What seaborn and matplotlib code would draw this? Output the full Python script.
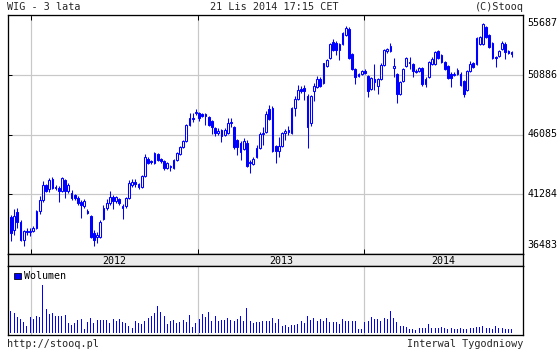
import matplotlib
matplotlib.use("Agg")
import matplotlib.pyplot as plt
import matplotlib.dates as mdates
from matplotlib.patches import Rectangle
import numpy as np
import pandas as pd
import seaborn as sns

# ---------------- data (weekly WIG candles) ----------------
first_week = "2011-11-18"

open_ = [39470, 38430, 39870, 39070, 37630, 38350, 38270, 38350, 38590, 39950,
         40830, 42030, 41710, 42510, 41790, 41790, 41550, 42430, 41550, 41390,
         41230, 40990, 40670, 40350, 39950, 39550, 38190, 37870, 37870, 39310,
         40190, 40590, 41070, 40750, 40910, 40190, 40350, 40990, 42030, 42270,
         42110, 41870, 42750, 44110, 43950, 43790, 44510, 44110, 43950, 43390,
         43470, 43390, 44030, 44510, 45070, 45550, 46830, 47390, 47790, 47790,
         47710, 47550, 47470, 47150, 46590, 46190, 46430, 46030, 46190, 46990,
         46670, 45630, 45390, 44910, 45390, 43790, 43710, 44270, 44990, 46110,
         46270, 48110, 48190, 45150, 44750, 45150, 46190, 46430, 46190, 48190,
         48910, 49710, 49790, 49150, 46990, 49550, 49870, 50510, 50190, 51550,
         52270, 53550, 53470, 52910, 53390, 54110, 54590, 52590, 51310, 50750,
         50910, 51150, 50750, 49710, 50510, 49950, 50510, 51630, 52830, 52830,
         51390, 50910, 49310, 50350, 51550, 51950, 51710, 51070, 51150, 51390,
         50110, 50670, 51710, 51710, 52830, 52510, 51950, 51550, 50910, 50830,
         50910, 50910, 50350, 49630, 51150, 51870, 51710, 53390, 53390, 54750,
         54110, 53470, 52350, 52430, 52990, 53390, 52830, 52590]

high = [39630, 40110, 40190, 39230, 38430, 38590, 38590, 38750, 40030, 41150,
        42350, 42110, 42590, 42670, 42030, 41950, 42670, 42510, 42190, 41630,
        41310, 41150, 40830, 40910, 40110, 39630, 38430, 38270, 39230, 40430,
        40910, 41550, 41230, 41150, 40990, 40510, 41070, 42430, 42510, 42510,
        42190, 42830, 44510, 44270, 44030, 44670, 44590, 44190, 44030, 43870,
        43630, 44110, 44670, 45150, 45630, 46910, 47790, 47790, 48110, 47870,
        47790, 47790, 47550, 47230, 46670, 46590, 46510, 46590, 47390, 47390,
        46750, 45710, 45550, 45790, 45630, 44030, 44270, 45230, 46270, 46670,
        47950, 48430, 48350, 45230, 45870, 46270, 46510, 46750, 48270, 49150,
        50030, 49950, 50030, 49310, 49230, 50190, 50750, 50670, 51870, 52190,
        53470, 53790, 53630, 53470, 54350, 54830, 54750, 52670, 51390, 50990,
        51230, 51310, 50830, 50670, 51710, 50590, 51790, 52990, 53070, 53470,
        52270, 50990, 50350, 51390, 52350, 52350, 51790, 51310, 51470, 51470,
        50670, 52030, 52350, 52830, 52910, 52590, 52030, 51630, 51070, 51070,
        51390, 51070, 50430, 51230, 52030, 51950, 53950, 54030, 55070, 54830,
        54190, 53550, 52430, 52910, 53630, 53550, 52910, 52830]

low = [37550, 38030, 38590, 37550, 37150, 38030, 37950, 38270, 38510, 39710,
       40670, 41470, 41470, 41710, 41630, 40670, 41470, 40990, 41390, 40830,
       40830, 40430, 39390, 40190, 39710, 37790, 37150, 37390, 37790, 39230,
       40030, 40430, 40110, 40590, 40430, 39310, 40190, 40910, 41870, 41870,
       41710, 41790, 42670, 43710, 43710, 43710, 43950, 43790, 43230, 43310,
       43150, 43310, 43950, 44430, 44990, 45470, 46750, 47070, 47630, 47150,
       47470, 46830, 46750, 46110, 45950, 46030, 45470, 45950, 46110, 46670,
       44910, 44430, 44030, 44830, 43470, 42990, 43630, 44190, 44910, 45230,
       46190, 47230, 44670, 43790, 44270, 45070, 45630, 46030, 46110, 47550,
       48830, 49390, 48830, 44990, 46750, 48750, 49790, 49870, 50110, 51470,
       52190, 52830, 52510, 52110, 53310, 54030, 52190, 51230, 50110, 50670,
       50830, 50910, 49070, 49630, 49630, 49310, 50430, 51550, 52670, 52750,
       50670, 48590, 49230, 50270, 51470, 51310, 50670, 50990, 51070, 49950,
       49870, 50590, 51630, 51630, 52190, 51870, 51230, 50510, 49870, 50750,
       50830, 49950, 49070, 49550, 51070, 51390, 51630, 53310, 53310, 53870,
       53070, 52190, 51470, 52350, 52910, 52190, 52590, 52350]

close = [38190, 39550, 39070, 37630, 38350, 38270, 38350, 38590, 39950, 40830,
         42030, 41550, 42430, 41790, 41870, 41550, 42590, 41550, 42030, 40990,
         40990, 40590, 40430, 40750, 39790, 37870, 37630, 38030, 39070, 40190,
         40590, 41070, 40750, 41070, 40590, 40350, 40990, 42190, 42270, 42110,
         41870, 42750, 44270, 43790, 43870, 44590, 44030, 43950, 43390, 43790,
         43550, 44030, 44590, 45070, 45550, 46830, 47390, 47310, 47870, 47390,
         47550, 47710, 46830, 46670, 46190, 46350, 45950, 46430, 46990, 47070,
         45070, 45070, 44670, 45550, 43550, 43870, 44110, 44990, 46110, 46190,
         47710, 47310, 44750, 44750, 45150, 46190, 46350, 46270, 48190, 48910,
         49630, 49550, 49550, 46670, 49150, 49950, 50510, 49950, 51790, 52110,
         53390, 52910, 52910, 53390, 54270, 54670, 52270, 51310, 50670, 50910,
         51150, 50990, 49550, 50590, 50270, 50510, 51630, 52910, 52990, 53230,
         51550, 49310, 50270, 51310, 52270, 51790, 51150, 51150, 51390, 50110,
         50510, 51950, 52190, 52750, 52270, 51950, 51310, 50590, 50590, 50910,
         51230, 50030, 49310, 51150, 51710, 51470, 53870, 53950, 54990, 53950,
         53150, 52270, 52270, 52830, 53470, 52750, 52670, 52750]

volume = [22.3, 20, 16.7, 14.3, 11.7, 7.3, 16.7, 14.3, 17.3, 16.7,
          48.7, 24.3, 19, 20, 17.7, 17.7, 17.7, 18.3, 10.7, 8.3,
          10.7, 13.3, 14.3, 4.3, 11.7, 15, 10.7, 13.3, 13.3, 13.3,
          13.3, 10, 14.3, 12.7, 14.3, 11.7, 10.7, 7.3, 5, 12.3,
          10, 9, 12.7, 15.7, 17.7, 20, 27.3, 21, 17.7, 9.3,
          12.3, 13.3, 10.7, 11.7, 13.3, 11.7, 18.3, 6.7, 10, 14.3,
          19, 16.7, 21.7, 12.3, 17.7, 12.7, 13.3, 13.3, 15.7, 13.3,
          12.7, 14.3, 17.3, 12.7, 25.7, 12.7, 10, 11.7, 11.7, 12.3,
          12.3, 12.3, 15, 10.7,
          14.3, 7.3, 8.3, 6, 8.3, 8.3, 9.3, 12.3, 10.7, 17.3,
          13.3, 15.7, 12.7, 14.3, 12.7, 15.7, 11.7, 11.7, 11.7, 9.3,
          14.3, 12.3, 12.3, 12.3, 12.7, 4, 4.3, 11.7, 12.7, 16.7,
          14.3, 14, 12.3, 15.7, 14.3, 22.7, 15.7, 11.7, 7.3, 7.3,
          6, 4, 4.3, 3.3, 5.7, 5.7, 5.7, 9.3, 5.7, 5,
          5, 6, 5, 4.3, 5.7, 4, 4.3, 5, 4.3, 4.3,
          5, 5.7, 6, 6.7, 7.7, 5, 5, 4.3, 7.3, 5,
          5, 4.3, 4.3, 4.3]

price_ticks = [36483, 41284, 46085, 50886, 55687]
year_starts = ["2012-01-01", "2013-01-01", "2014-01-01"]
year_labels = ["2012", "2013", "2014"]
x_range = ["2011-11-11 12:00", "2014-12-16 00:00"]

title_left = "WIG - 3 lata"
title_mid = "21 Lis 2014 17:15 CET"
title_right = "(C)Stooq"
footer_left = "http://stooq.pl"
footer_right = "Interwal Tygodniowy"
legend_label = "Wolumen"

# ---------------- styling ----------------
BLUE = "#0000FF"
GRID = "#C8C8C8"
BAND = "#EBEBEB"
PX = 0.72  # one pixel in points at 100 dpi

sns.set_style("white")
plt.rcParams["font.family"] = ["DejaVu Sans Mono", "DejaVu Sans"]

W, H = 560, 350
fig = plt.figure(figsize=(W / 100, H / 100), dpi=100)
fig.patch.set_facecolor("white")


def rect(l, t, r, b):
    return [l / W, 1 - b / H, (r - l) / W, (b - t) / H]


ax = fig.add_axes(rect(8, 15, 523, 254))
axb = fig.add_axes(rect(8, 254, 523, 266))
axv = fig.add_axes(rect(8, 266, 523, 335))

dates = pd.date_range(first_week, periods=len(close), freq="7D")
xnum = mdates.date2num(dates)
o = np.array(open_, float)
c = np.array(close, float)
hi = np.array(high, float)
lo = np.array(low, float)
up = c >= o

xl = mdates.date2num(pd.to_datetime(x_range, format="%Y-%m-%d %H:%M"))
ys = mdates.date2num(pd.to_datetime(year_starts, format="%Y-%m-%d"))
days_per_px = (xl[1] - xl[0]) / 515.0

# ---------------- price panel ----------------
ax.vlines(xnum, lo, hi, color=BLUE, lw=PX * 1.05, zorder=3)
body_w = 3.9
ax.bar(xnum[up], (c - o)[up], bottom=o[up], width=body_w, facecolor="white",
       edgecolor=BLUE, linewidth=PX * 1.05, zorder=4)
ax.bar(xnum[~up], (o - c)[~up], bottom=c[~up], width=body_w, facecolor=BLUE,
       edgecolor=BLUE, linewidth=PX * 1.05, zorder=4)

ax.set_xlim(xl[0], xl[1])
ax.set_ylim(price_ticks[0], price_ticks[-1])
ax.set_yticks(price_ticks)
ax.set_xticks(ys)
ax.grid(True, color=GRID, lw=PX * 1.2, zorder=0)
ax.set_axisbelow(True)
ax.tick_params(axis="y", left=True, right=False, labelleft=False, labelright=False,
               direction="in", length=3, width=PX, color="black")
ax.tick_params(axis="x", top=True, bottom=True, labelbottom=False, direction="in",
               length=3.5, width=PX, color="black")
for s in ax.spines.values():
    s.set_color("black")
    s.set_linewidth(PX * 1.3)

ytr = ax.get_yaxis_transform()
for i, v in enumerate(price_ticks):
    va = "center"
    dy = 0
    if i == len(price_ticks) - 1:
        va, dy = "top", -2.5
    elif i == 0:
        va, dy = "bottom", 3
    ax.annotate(str(v), xy=(1.0, v), xycoords=ytr, xytext=(3, dy),
                textcoords="offset points", ha="left", va=va, fontsize=7.2,
                color="black")

# ---------------- year band ----------------
axb.set_facecolor(BAND)
axb.set_xlim(xl[0], xl[1])
axb.set_ylim(0, 1)
axb.set_xticks([])
axb.set_yticks([])
for s in axb.spines.values():
    s.set_color("black")
    s.set_linewidth(PX * 1.3)
bounds = list(ys) + [mdates.date2num(pd.Timestamp("2015-01-01"))]
for i, lab in enumerate(year_labels):
    a = max(bounds[i], xl[0])
    b = min(bounds[i + 1], xl[1])
    axb.text((a + b) / 2, 0.45, lab, ha="center", va="center", fontsize=7.2,
             color="black")

# ---------------- volume panel ----------------
vol_df = pd.DataFrame({"date": xnum, "volume": volume})
sns.barplot(data=vol_df, x="date", y="volume", native_scale=True, color=BLUE,
            saturation=1, width=1.0 * days_per_px / 7.0, errorbar=None,
            linewidth=0, ax=axv, zorder=3)
for p in axv.patches:
    p.set_antialiased(False)
axv.set_xlim(xl[0], xl[1])
axv.set_ylim(-1.6, 67.4)
axv.set_xlabel("")
axv.set_ylabel("")
axv.set_yticks([])
axv.set_xticks(ys)
axv.tick_params(axis="x", length=0, labelbottom=False)
axv.grid(True, axis="x", color=GRID, lw=PX * 1.2, zorder=0)
axv.set_axisbelow(True)
for s in axv.spines.values():
    s.set_color("black")
    s.set_linewidth(PX * 1.3)

axv.add_patch(Rectangle((6 / 515, 0.81), 6.5 / 515, 0.095, transform=axv.transAxes,
                        facecolor=BLUE, edgecolor="black", lw=PX * 0.8, zorder=5))
axv.text(15.5 / 515, 0.86, legend_label, transform=axv.transAxes, ha="left",
         va="center", fontsize=7.2, color="black")

# ---------------- texts ----------------
fig.text(7 / W, 1 - 7 / H, title_left, ha="left", va="center", fontsize=7.3)
fig.text(274 / W, 1 - 7 / H, title_mid, ha="center", va="center", fontsize=7.3)
fig.text(524 / W, 1 - 7 / H, title_right, ha="right", va="center", fontsize=7.3)
fig.text(7 / W, 1 - 344 / H, footer_left, ha="left", va="center", fontsize=7.3)
fig.text(523 / W, 1 - 344 / H, footer_right, ha="right", va="center", fontsize=7.3)

fig.savefig("out.png", dpi=100, facecolor="white")
